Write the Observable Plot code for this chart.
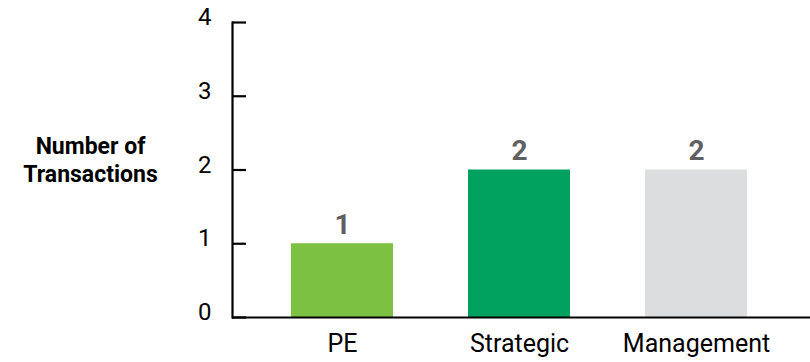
<!DOCTYPE html>
<html>
<head>
<meta charset="utf-8">
<script src="https://cdn.jsdelivr.net/npm/d3@7"></script>
<script src="https://cdn.jsdelivr.net/npm/@observablehq/plot@0.6"></script>
<style>
  html, body { margin: 0; padding: 0; background: #fff; }
  #chart svg { display: block; }
</style>
</head>
<body>
<div id="chart"></div>
<script>
const categories = ["PE", "Strategic", "Management"];
const values = [1, 2, 2];
const colors = ["#7cc142", "#00a05e", "#dcddde"];
const yTicks = [0, 1, 2, 3, 4];
const yTitle = "Number of\nTransactions";

const data = categories.map((c, i) => ({category: c, value: values[i]}));
const font = "Roboto, 'Liberation Sans', sans-serif";

const chart = Plot.plot({
  width: 810,
  height: 362,
  marginLeft: 232,
  marginRight: 0,
  marginTop: 22,
  marginBottom: 45,
  style: {fontFamily: font, color: "#000", background: "#fff"},
  x: {domain: categories, paddingInner: 0.425, paddingOuter: 0.34, align: 0.48, label: null},
  y: {domain: [0, 4], label: null},
  color: {domain: categories, range: colors},
  marks: [
    Plot.barY(data, {x: "category", y: "value", fill: "category"}),
    Plot.text(data, {x: "category", y: "value", text: d => String(d.value), dy: -19,
      fontSize: 28, fontWeight: "bold", fill: "#606062"}),
    Plot.ruleY([0], {stroke: "#000", strokeWidth: 2.2}),
    Plot.frame({anchor: "left", stroke: "#000", strokeWidth: 2.2}),
    Plot.axisY({ticks: yTicks, tickSize: 14, dx: 14, strokeWidth: 2.2, tickFormat: () => "", label: null}),
    Plot.axisY({ticks: yTicks, tickFormat: d3.format("d"), tickSize: 0, tickPadding: 21, dy: -5, fontSize: 24, fill: "#000", label: null}),
    Plot.axisX({tickSize: 0, tickPadding: 17, fontSize: 25, fill: "#000", label: null}),
    Plot.text([yTitle], {frameAnchor: "left", dx: -142, dy: -11, text: d => d, textAnchor: "middle",
      fontSize: 23, fontWeight: "bold", lineHeight: 1.22, fill: "#000"})
  ]
});
document.getElementById("chart").append(chart);
</script>
</body>
</html>
